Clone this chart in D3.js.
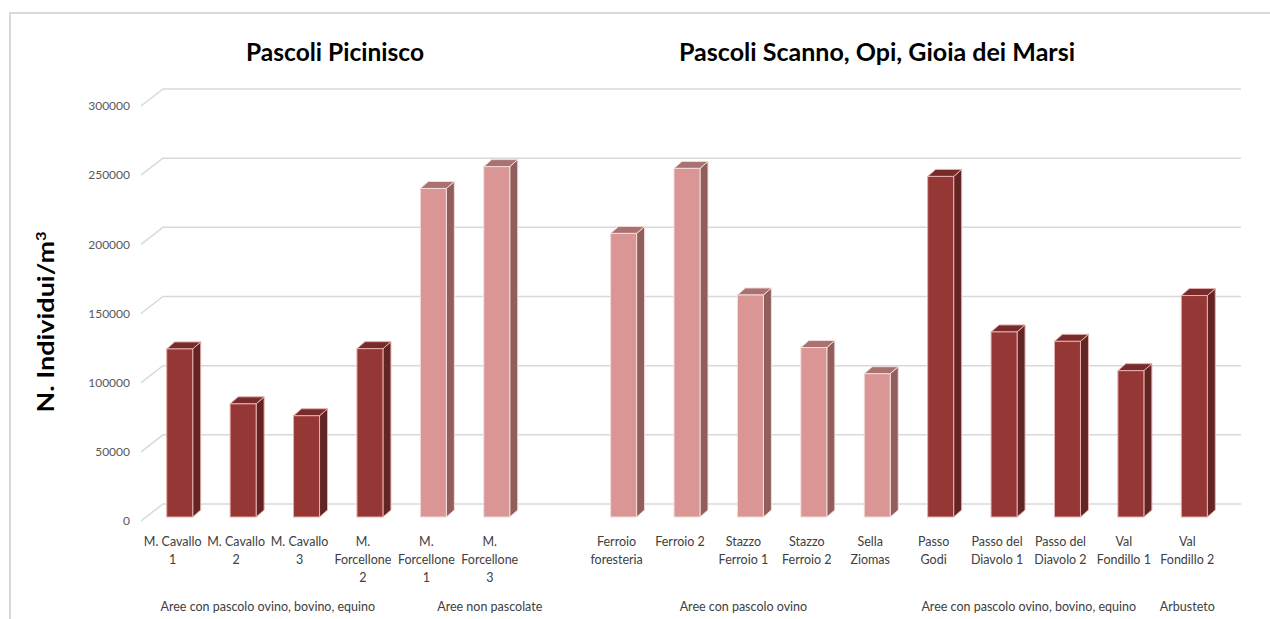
<!DOCTYPE html>
<html>
<head>
<meta charset="utf-8">
<script src="https://cdn.jsdelivr.net/npm/d3@7"></script>
<style>
    body { margin: 0; background: #fff; }
    svg { display: block; font-family: Lato, "Open Sans", sans-serif; }
</style>
</head>
<body>
<svg id="chart" width="1270" height="619"></svg>
<script>
// categories, one empty slot between the two sites
const categories = ["M. Cavallo\n1", "M. Cavallo\n2", "M. Cavallo\n3", "M.\nForcellone\n2", "M.\nForcellone\n1", "M.\nForcellone\n3", "",
    "Ferroio\nforesteria", "Ferroio 2", "Stazzo\nFerroio 1", "Stazzo\nFerroio 2", "Sella\nZiomas",
    "Passo\nGodi", "Passo del\nDiavolo 1", "Passo del\nDiavolo 2", "Val\nFondillo 1", "Val\nFondillo 2"];
const values = [121500, 81800, 73200, 121700, 237500, 253300, null,
    205000, 252000, 160500, 122500, 103600,
    246200, 133800, 127000, 105800, 160100];
// 1 = dark bars, 0 = light bars
const dark = [1, 1, 1, 1, 0, 0, 0, 0, 0, 0, 0, 0, 1, 1, 1, 1, 1];
const groups = [
    { name: "Aree con pascolo ovino, bovino, equino", from: 0, to: 3 },
    { name: "Aree non pascolate", from: 4, to: 6 },
    { name: "Aree con pascolo ovino", from: 7, to: 11 },
    { name: "Aree con pascolo ovino, bovino, equino", from: 12, to: 15 },
    { name: "Arbusteto", from: 16, to: 16 }
];
const yTicks = [0, 50000, 100000, 150000, 200000, 250000, 300000];

const svg = d3.select("#chart");

// frame
svg.append("path")
    .attr("d", "M10,619 L10,13 L1270,13")
    .attr("fill", "none")
    .attr("stroke", "#d9d9d9")
    .attr("stroke-width", 2);

// back wall of the 3d box
const back = { left: 163, right: 1241, top: 89, bottom: 504 };
const depth = { dx: -22, dy: 17 };     // back -> front of the floor
const barFront = { dx: -15, dy: 13 };  // back -> bar front face
const barDepth = { dx: 8, dy: -7 };

const x = d3.scaleBand()
    .domain(d3.range(categories.length))
    .range([back.left, back.right]);
const y = d3.scaleLinear()
    .domain([0, 300000])
    .range([back.bottom, back.top]);

const barW = 26;

// gridlines
const grid = svg.append("g");
yTicks.forEach(v => {
    grid.append("path")
        .attr("d", "M" + (back.left + depth.dx) + "," + (y(v) + depth.dy) +
            " L" + back.left + "," + y(v) + " L" + back.right + "," + y(v))
        .attr("fill", "none")
        .attr("stroke", "#d9d9d9")
        .attr("stroke-width", 1.5);
});

svg.append("g")
    .selectAll("text")
    .data(yTicks).enter()
    .append("text")
    .attr("x", 130)
    .attr("y", d => y(d) + depth.dy)
    .attr("dy", "0.35em")
    .attr("text-anchor", "end")
    .attr("fill", "#595959")
    .style("font-size", "12px")
    .text(d => d);

// bars
const colors = {
    1: { front: "#953735", side: "#632523", top: "#772c2b", stroke: "#e6b0ae" },
    0: { front: "#d99694", side: "#8f5e5d", top: "#a97271", stroke: "#f2dcdb" }
};

const bars = svg.append("g")
    .selectAll("g")
    .data(categories.map((c, i) => ({ i: i, v: values[i], dark: dark[i] })).filter(d => d.v != null))
    .enter().append("g");

function x0(d) { return x(d.i) + x.bandwidth() / 2 + barFront.dx - barW / 2; }
function yTop(d) { return y(d.v) + barFront.dy; }
function yBot(d) { return y(0) + barFront.dy; }

bars.append("polygon")
    .attr("points", d => {
        const a = x0(d) + barW, t = yTop(d), b = yBot(d);
        return [[a, t], [a + barDepth.dx, t + barDepth.dy], [a + barDepth.dx, b + barDepth.dy], [a, b]].join(" ");
    })
    .attr("fill", d => colors[d.dark].side)
    .attr("stroke", d => colors[d.dark].stroke)
    .attr("stroke-width", 1);

bars.append("polygon")
    .attr("points", d => {
        const a = x0(d), t = yTop(d);
        return [[a, t], [a + barDepth.dx, t + barDepth.dy], [a + barW + barDepth.dx, t + barDepth.dy], [a + barW, t]].join(" ");
    })
    .attr("fill", d => colors[d.dark].top)
    .attr("stroke", d => colors[d.dark].stroke)
    .attr("stroke-width", 1);

bars.append("rect")
    .attr("x", x0)
    .attr("y", yTop)
    .attr("width", barW)
    .attr("height", d => yBot(d) - yTop(d))
    .attr("fill", d => colors[d.dark].front)
    .attr("stroke", d => colors[d.dark].stroke)
    .attr("stroke-width", 1);

// category labels (front plane)
function cx(i) { return x(i) + x.bandwidth() / 2 + depth.dx; }

const cats = svg.append("g")
    .selectAll("text")
    .data(categories).enter()
    .append("text")
    .attr("text-anchor", "middle")
    .attr("fill", "#404040")
    .style("font-size", "12.5px");

cats.each(function (c, i) {
    c.split("\n").forEach((line, k) => {
        d3.select(this).append("tspan")
            .attr("x", cx(i))
            .attr("y", 546 + k * 18)
            .text(line);
    });
});

svg.append("g")
    .selectAll("text")
    .data(groups).enter()
    .append("text")
    .attr("x", d => (cx(d.from) + cx(d.to)) / 2)
    .attr("y", 611)
    .attr("text-anchor", "middle")
    .attr("fill", "#404040")
    .style("font-size", "12.5px")
    .text(d => d.name);

// titles
svg.append("text")
    .attr("x", 335).attr("y", 61)
    .attr("text-anchor", "middle")
    .attr("textLength", 178).attr("lengthAdjust", "spacingAndGlyphs")
    .style("font-size", "24px").style("font-weight", "bold")
    .text("Pascoli Picinisco");

svg.append("text")
    .attr("x", 877).attr("y", 61)
    .attr("text-anchor", "middle")
    .attr("textLength", 396).attr("lengthAdjust", "spacingAndGlyphs")
    .style("font-size", "24px").style("font-weight", "bold")
    .text("Pascoli Scanno, Opi, Gioia dei Marsi");

const yt = svg.append("text")
    .attr("transform", "translate(54,322) rotate(-90)")
    .attr("text-anchor", "middle")
    .attr("textLength", 181).attr("lengthAdjust", "spacingAndGlyphs")
    .style("font-size", "23px").style("font-weight", "bold");
yt.append("tspan").text("N. Individui/m");
yt.append("tspan").attr("dy", -8).style("font-size", "14px").text("3");
</script>
</body>
</html>
